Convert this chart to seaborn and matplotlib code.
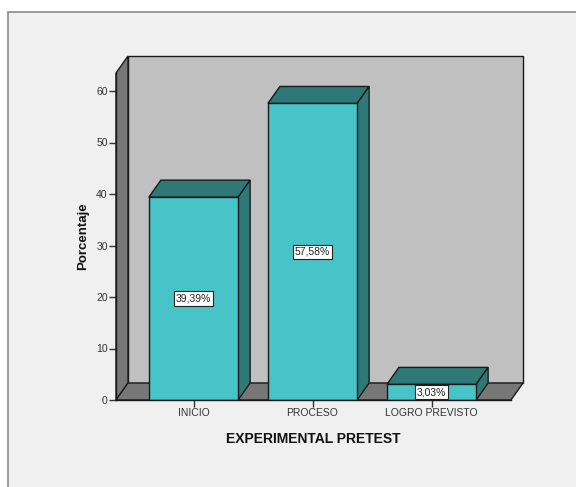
import matplotlib
matplotlib.use("Agg")
import matplotlib.pyplot as plt
import matplotlib.transforms as mtransforms
from matplotlib.patches import Polygon, Rectangle
import seaborn as sns

# datos del grafico
categorias = ["INICIO", "PROCESO", "LOGRO PREVISTO"]
porcentajes = [39.39, 57.58, 3.03]
ticks_y = [0, 10, 20, 30, 40, 50, 60]

sns.set_style("white")
plt.rcParams["font.family"] = ["Liberation Sans", "DejaVu Sans"]

c_frente = "#48c4c8"
c_lado = "#2e7878"
c_pared = "#c0c0c0"
c_piso = "#777777"
dx, dy = 12, 17  # profundidad del efecto 3D en pixeles

W, H = 576, 487
fig = plt.figure(figsize=(W / 100, H / 100), dpi=100)
fig.patch.set_facecolor("white")
fig.add_artist(Rectangle((8 / W, -0.1), 1.2, (H - 12) / H + 0.1, transform=fig.transFigure,
                         facecolor="#f0f0f0", edgecolor="#8a8a8a", lw=1.2, zorder=-10))

# ejes frontales en pixeles
x0p, x1p, y0p, y1p = 116, 511, H - 400, H - 73
ax = fig.add_axes([x0p / W, y0p / H, (x1p - x0p) / W, (y1p - y0p) / H])
ax.patch.set_visible(False)

sns.barplot(x=categorias, y=porcentajes, color=c_frente, saturation=1, width=0.75,
            edgecolor="#1a1a1a", linewidth=1, ax=ax, zorder=5)

ax.set_ylim(0, (y1p - y0p) / 5.15)
ax.set_xlim(-(193.5 - x0p) / 119, (x1p - 193.5) / 119)
ax.set_yticks(ticks_y)

ident = mtransforms.IdentityTransform()

def poly(pts, fc, z):
    p = Polygon(pts, closed=True, facecolor=fc, edgecolor="#1a1a1a", lw=1,
                transform=ident, clip_on=False, zorder=z)
    ax.add_artist(p)

# pared del fondo, pared izquierda y piso
poly([(x0p + dx, y0p + dy), (x1p + dx, y0p + dy), (x1p + dx, y1p + dy), (x0p + dx, y1p + dy)], c_pared, 0.5)
poly([(x0p, y0p), (x0p + dx, y0p + dy), (x0p + dx, y1p + dy), (x0p, y1p)], c_piso, 0.6)
poly([(x0p, y0p), (x1p, y0p), (x1p + dx, y0p + dy), (x0p + dx, y0p + dy)], c_piso, 0.7)

# caras superior y lateral de cada barra
for p in list(ax.patches):
    if not isinstance(p, Rectangle):
        continue
    a = ax.transData.transform((p.get_x(), p.get_y()))
    b = ax.transData.transform((p.get_x() + p.get_width(), p.get_y() + p.get_height()))
    poly([(a[0], b[1]), (b[0], b[1]), (b[0] + dx, b[1] + dy), (a[0] + dx, b[1] + dy)], c_lado, 4)
    poly([(b[0], a[1]), (b[0] + dx, a[1] + dy), (b[0] + dx, b[1] + dy), (b[0], b[1])], c_lado, 4)

# etiquetas de porcentaje
for i, v in enumerate(porcentajes):
    ax.text(i, v / 2, f"{v:.2f}".replace(".", ",") + "%", ha="center", va="center",
            fontsize=7.5, color="#222222", zorder=10,
            bbox=dict(boxstyle="square,pad=0.2", facecolor="white", edgecolor="#222222", lw=0.8))

for s in ["top", "right"]:
    ax.spines[s].set_visible(False)
for s in ["left", "bottom"]:
    ax.spines[s].set_color("#1a1a1a")
    ax.spines[s].set_linewidth(1)
    ax.spines[s].set_zorder(8)
ax.tick_params(axis="both", which="major", direction="out", length=5, width=1,
               color="#333333", labelsize=7.5, labelcolor="#333333", pad=1,
               left=True, bottom=True)

ax.set_ylabel("Porcentaje", fontsize=9.5, fontweight="bold", color="#111111")
ax.yaxis.set_label_coords((89 - x0p) / (x1p - x0p), 0.5)
ax.set_xlabel("EXPERIMENTAL PRETEST", fontsize=10, fontweight="bold", color="#111111")
ax.xaxis.set_label_coords(0.5, ((H - 432) - y0p) / (y1p - y0p))

fig.savefig("out.png", dpi=100)
